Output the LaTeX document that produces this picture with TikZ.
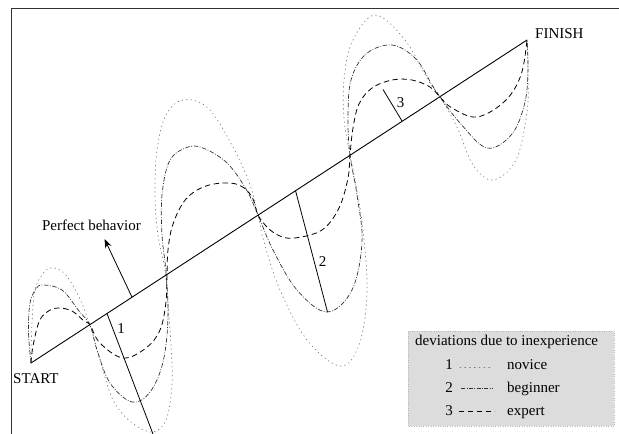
\documentclass[tikz,border=0pt]{standalone}
\usepackage{fontspec}
\setmainfont{Liberation Serif}
\usetikzlibrary{arrows.meta}
\definecolor{legendgray}{RGB}{220,220,220}
\definecolor{legendedge}{RGB}{185,185,185}
\definecolor{novicegray}{RGB}{120,120,120}
\definecolor{framegray}{RGB}{50,50,50}
\tikzset{
  lbl/.style={font=\fontsize{15}{17}\selectfont, inner sep=0pt},
  mainline/.style={line width=0.9pt, black},
  devline/.style={line width=0.8pt, black},
  novicestyle/.style={line width=0.7pt, novicegray, dash pattern=on 0.8pt off 3.6pt, line cap=round},
  beginnerstyle/.style={line width=0.7pt, black!80, dash pattern=on 4.5pt off 1.6pt on 0.8pt off 1.6pt},
  expertstyle/.style={line width=0.8pt, black, dash pattern=on 5.5pt off 3.5pt},
}
\begin{document}
\begin{tikzpicture}[x=1pt,y=-1pt]
\useasboundingbox (0,0) rectangle (619,434);
% frame (cropped)
\draw[framegray, line width=1pt] (11,434) -- (11,8.3) -- (619,8.3);

% key points
\coordinate (S) at (31,363);
\coordinate (F) at (527,40);

% curves
\draw[novicestyle] plot[smooth, tension=0.6] coordinates {
 (31,363) (31.5,335) (34,295) (40,278) (50,268) (64,273) (78,295) (90,325)
 (100,360) (113,400) (131,422) (152,432) (166,420) (172,385) (171,345) (168,305) (165,270)
 (158,235) (155,195) (157,150) (166,115) (183,100) (208,108) (233,147) (250,185) (258,215)
 (264,242) (280,290) (307,340) (340,366) (359,345) (367,293) (363,230) (356,185) (349,150)
 (344,118) (344,80) (352,42) (375,15) (405,40) (428,80) (440,97)
 (457,127) (473,165) (493,180) (516,160) (527,112) (528,75) (527,40)};
\draw[beginnerstyle] plot[smooth, tension=0.6] coordinates {
 (31,363) (28.5,332) (30,303) (36,289) (43,285) (62,290) (79,311) (90,325)
 (97,350) (110,383) (132,402) (150,392) (163,362) (168,318) (166,272)
 (162,235) (162,195) (169,162) (183,149) (200,147) (226,162) (246,189) (258,215)
 (273,250) (297,290) (327,312) (352,290) (362,242) (357,195) (350,155)
 (348,118) (351,80) (366,54) (392,45) (416,59) (432,85) (440,97)
 (460,123) (487,148) (512,134) (525,102) (528,68) (527,40)};
\draw[expertstyle] plot[smooth, tension=0.6] coordinates {
 (31,363) (33,346) (39,322) (47,312) (58,308) (72,311) (84,321) (90,325)
 (100,343) (123,358) (146,348) (160,330) (166,302) (167,274)
 (168,250) (173,224) (186,199) (206,186) (230,183) (244,188) (253,199) (258,215)
 (268,228) (280,236) (295,238) (322,230) (339,208) (348,178) (350,155)
 (353,128) (359,104) (372,88) (392,80) (412,80) (430,87) (440,97)
 (452,108) (477,117) (505,101) (521,75) (527,40)};

% perfect behaviour line
\draw[mainline] (S) -- (F);

% labels of ends
\node[lbl, anchor=base west] (start) at (13,383.5) {START};
\node[lbl, anchor=base west] (finish) at (535,38) {FINISH};

% perfect behaviour arrow
\coordinate (pbtail) at (132,297.2);
\node[lbl, anchor=base east] (pb) at (141,230) {Perfect behavior};
\coordinate (pbtip) at (104.5,239);
\draw[line width=0.8pt, -{Stealth[length=9pt,width=6.5pt]}] (pbtail) -- (pbtip);

% deviation markers
\coordinate (d1a) at (107,313.5);
\coordinate (d1b) at (153,434);
\draw[devline] (d1a) -- (d1b);
\node[lbl, anchor=base] (n1) at (121,333) {1};
\coordinate (d2a) at (295.5,190.5);
\coordinate (d2b) at (327.5,312);
\draw[devline] (d2a) -- (d2b);
\node[lbl, anchor=base] (n2) at (322.5,266) {2};
\coordinate (d3a) at (402,121);
\coordinate (d3b) at (383,89.5);
\draw[devline] (d3a) -- (d3b);
\node[lbl, anchor=base] (n3) at (400.5,107) {3};

% legend
\draw[fill=legendgray, draw=legendedge, dotted] (408,331) rectangle (614,426);
\node[lbl, anchor=base west] (lt) at (415,345.5) {deviations due to inexperience};
\node[lbl, anchor=base] (l1) at (449,369) {1};
\node[lbl, anchor=base] (l2) at (449,392.5) {2};
\node[lbl, anchor=base] (l3) at (449,415.5) {3};
\node[lbl, anchor=base west] (t1) at (507,369) {novice};
\node[lbl, anchor=base west] (t2) at (507,392.5) {beginner};
\node[lbl, anchor=base west] (t3) at (507,415.5) {expert};
\coordinate (s1a) at (460,367.5); \coordinate (s1b) at (491,367.5);
\coordinate (s2a) at (461,388); \coordinate (s2b) at (493,388);
\coordinate (s3a) at (459,411); \coordinate (s3b) at (495,411);
\draw[novicestyle, dash pattern=on 0.8pt off 4pt] (s1a) -- (s1b);
\draw[beginnerstyle, dash pattern=on 4pt off 1.5pt on 0.8pt off 1.5pt] (s2a) -- (s2b);
\draw[expertstyle, dash pattern=on 5pt off 4pt] (s3a) -- (s3b);
\end{tikzpicture}
\end{document}
